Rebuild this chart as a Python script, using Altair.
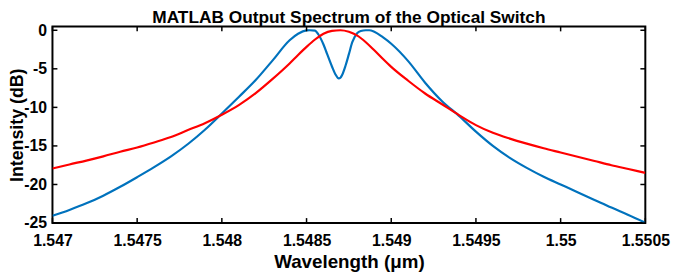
import altair as alt
import pandas as pd

title_text = "MATLAB Output Spectrum of the Optical Switch"
x_title = "Wavelength (μm)"
y_title = "Intensity (dB)"

x_ticks = [1.547, 1.5475, 1.548, 1.5485, 1.549, 1.5495, 1.55, 1.5505]
y_ticks = [0, -5, -10, -15, -20, -25]

blue_wl = [1.5470, 1.5471, 1.5472, 1.5473, 1.5474, 1.5475, 1.5476, 1.5477, 1.5478, 1.5479,
           1.5480, 1.5481, 1.5482, 1.5483, 1.5484, 1.54845, 1.5485, 1.54852, 1.54855, 1.54857,
           1.5486, 1.54862, 1.54865, 1.54867, 1.54869, 1.5487, 1.54871, 1.54873, 1.54875, 1.54877,
           1.5488, 1.54882, 1.54885, 1.54887, 1.5489, 1.54895, 1.5490, 1.5491, 1.5492, 1.5493,
           1.5494, 1.5495, 1.5496, 1.5497, 1.5498, 1.5499, 1.5500, 1.5501, 1.5502, 1.5503,
           1.5504, 1.5505]
blue_db = [-24.05, -23.3, -22.45, -21.45, -20.3, -19.05, -17.75, -16.35, -14.75, -12.9,
           -10.8, -8.65, -6.45, -3.9, -1.3, -0.45, -0.02, 0.0, -0.05, -0.55,
           -1.85, -3.0, -4.7, -5.7, -6.25, -6.15, -5.8, -4.6, -3.1, -1.55,
           -0.35, -0.1, 0.0, 0.0, -0.2, -0.9, -1.75, -4.0, -6.8, -9.2,
           -11.1, -13.15, -15.0, -16.55, -17.85, -19.0, -20.0, -21.0, -22.0, -23.0,
           -23.95, -24.95]

red_wl = [1.5470, 1.5471, 1.5472, 1.5473, 1.5474, 1.5475, 1.5476, 1.5477, 1.5478, 1.5479,
          1.5480, 1.5481, 1.5482, 1.5483, 1.5484, 1.54845, 1.5485, 1.54855, 1.5486, 1.54865,
          1.5487, 1.54875, 1.5488, 1.54885, 1.5489, 1.54895, 1.5490, 1.5491, 1.5492, 1.5493,
          1.5494, 1.5495, 1.5496, 1.5497, 1.5498, 1.5499, 1.5500, 1.5501, 1.5502, 1.5503,
          1.5504, 1.5505]
red_db = [-17.93, -17.4, -16.9, -16.35, -15.75, -15.2, -14.55, -13.85, -12.95, -12.05,
          -10.95, -9.7, -8.15, -6.3, -4.3, -3.2, -2.15, -1.2, -0.45, -0.08,
          0.0, -0.2, -0.7, -1.55, -2.6, -3.7, -4.75, -6.55, -8.2, -9.6,
          -11.0, -12.3, -13.3, -14.05, -14.7, -15.3, -15.85, -16.4, -16.95, -17.5,
          -18.0, -18.5]

df = pd.concat([
    pd.DataFrame({"wl": blue_wl, "db": blue_db, "s": "blue", "o": list(range(len(blue_wl)))}),
    pd.DataFrame({"wl": red_wl, "db": red_db, "s": "red", "o": list(range(len(red_wl)))}),
], ignore_index=True)

W, H = 600, 199
FONT = "Liberation Sans"
TL = 5

xscale = alt.Scale(domain=[1.547, 1.5505], nice=False, zero=False)
yscale = alt.Scale(domain=[-25, 0.5], nice=False, zero=False)

x_axis = alt.Axis(
    values=x_ticks, format=".5~f", title=x_title,
    labelBaseline="alphabetic", labelPadding=23,
    titleX=W / 2, titleY=45, titleBaseline="alphabetic", titleAlign="center")
y_axis = alt.Axis(
    values=y_ticks, labelExpr="'' + datum.value", title=y_title,
    labelBaseline="middle", labelPadding=6, titleFontSize=18,
    titleX=-30, titleY=H / 2, titleAngle=270, titleBaseline="alphabetic", titleAlign="center")

lines = alt.Chart(df).mark_line(strokeWidth=2.2, interpolate="monotone", clip=True).encode(
    x=alt.X("wl:Q", scale=xscale, axis=x_axis),
    y=alt.Y("db:Q", scale=yscale, axis=y_axis),
    color=alt.Color("s:N", scale=alt.Scale(domain=["blue", "red"], range=["#0072BD", "#FF0000"]), legend=None),
    order="o:Q",
)

xt = pd.DataFrame({"wl": x_ticks})
yt = pd.DataFrame({"db": y_ticks})

tick_style = dict(color="black", strokeWidth=1.5)
bottom = alt.Chart(xt).mark_rule(**tick_style).encode(
    x=alt.X("wl:Q", scale=xscale, axis=x_axis), y=alt.value(H), y2=alt.value(H - TL))
top = alt.Chart(xt).mark_rule(**tick_style).encode(
    x=alt.X("wl:Q", scale=xscale, axis=x_axis), y=alt.value(0), y2=alt.value(TL))
left = alt.Chart(yt).mark_rule(**tick_style).encode(
    y=alt.Y("db:Q", scale=yscale, axis=y_axis), x=alt.value(0), x2=alt.value(TL))
right = alt.Chart(yt).mark_rule(**tick_style).encode(
    y=alt.Y("db:Q", scale=yscale, axis=y_axis), x=alt.value(W), x2=alt.value(W - TL))

title_mark = alt.Chart(pd.DataFrame({"t": [title_text]})).mark_text(
    font=FONT, fontSize=17.5, fontWeight="bold", color="black",
    align="center", baseline="alphabetic"
).encode(text="t:N", x=alt.value(W / 2), y=alt.value(-3.5))

chart = alt.layer(lines, bottom, top, left, right, title_mark).properties(
    width=W, height=H,
    background="white",
    autosize=alt.AutoSizeParams(type="none"),
    padding={"left": 45, "top": 17, "right": 27, "bottom": 54},
).configure_view(
    stroke="black", strokeWidth=2
).configure_axis(
    domain=False, ticks=False, tickSize=0, grid=False,
    labelFont=FONT, labelFontSize=16, labelFontWeight="bold", labelColor="black",
    labelFlush=False, labelOverlap=False,
    titleFont=FONT, titleFontSize=19, titleFontWeight="bold", titleColor="black",
)

chart.save("out.html", embed_options={"renderer": "svg", "actions": False})
